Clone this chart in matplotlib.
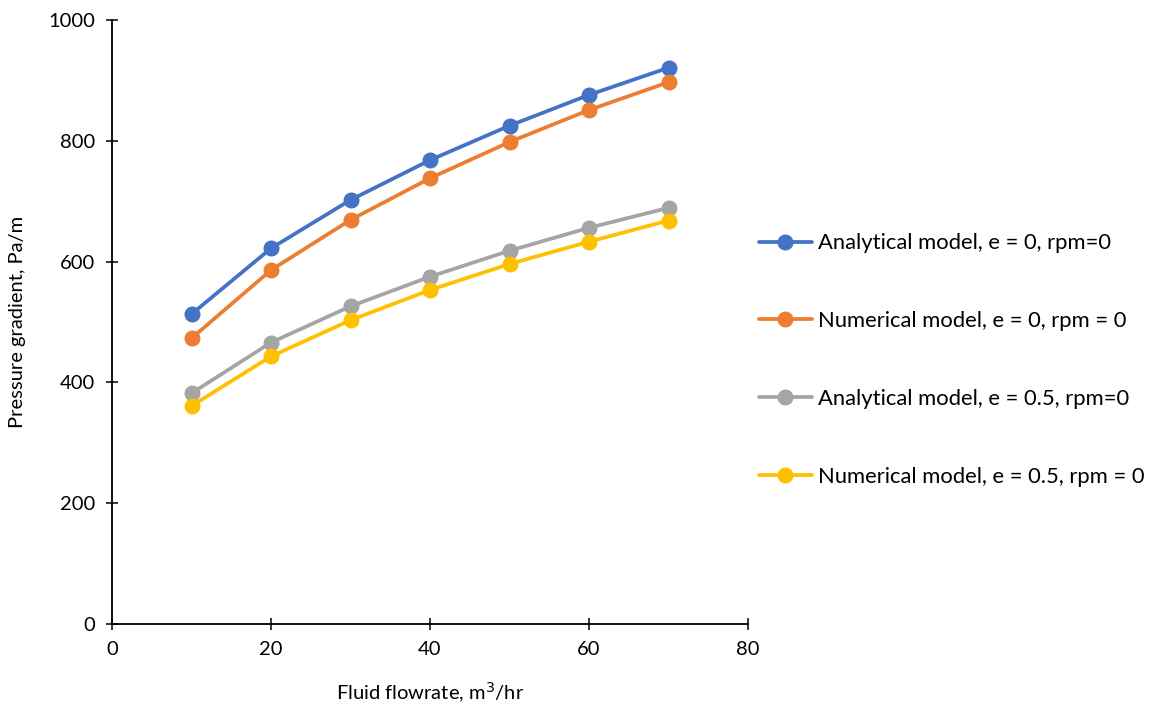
import matplotlib
matplotlib.use("Agg")
import matplotlib.pyplot as plt

plt.rcParams['font.family'] = ['Lato', 'DejaVu Sans']

flowrate = [10, 20, 30, 40, 50, 60, 70]
analytical_e0 = [513, 622, 702, 768, 825, 876, 921]
numerical_e0 = [473, 586, 669, 738, 798, 851, 897]
analytical_e05 = [382, 466, 526, 575, 618, 656, 689]
numerical_e05 = [361, 443, 503, 553, 596, 633, 668]

labels = ["Analytical model, e = 0, rpm=0",
          "Numerical model, e = 0, rpm = 0",
          "Analytical model, e = 0.5, rpm=0",
          "Numerical model, e = 0.5, rpm = 0"]
colors = ["#4472C4", "#ED7D31", "#A5A5A5", "#FFC000"]
series = [analytical_e0, numerical_e0, analytical_e05, numerical_e05]

fig = plt.figure(figsize=(11.57, 7.05), dpi=100)
ax = fig.add_axes([112/1157, 1-624/705, (748-112)/1157, (624-20)/705])

for y, c, lab in zip(series, colors, labels):
    ax.plot(flowrate, y, color=c, lw=2.7, marker='o', ms=10.5, label=lab,
            solid_capstyle='round')

ax.set_xlim(0, 80)
ax.set_ylim(0, 1000)
ax.set_xticks([0, 20, 40, 60, 80])
ax.set_yticks([0, 200, 400, 600, 800, 1000])
for s in ['top', 'right']:
    ax.spines[s].set_visible(False)
for s in ['left', 'bottom']:
    ax.spines[s].set_linewidth(1.3)
ax.tick_params(axis='both', direction='inout', length=8, width=1.1,
               labelsize=14.5, colors='black')
ax.tick_params(axis='x', pad=8)
ax.tick_params(axis='y', pad=8)
ax.set_xlabel("Fluid flowrate, m$^3$/hr", fontsize=14.5, labelpad=17)
ax.set_ylabel("Pressure gradient, Pa/m", fontsize=14.5, labelpad=16)

fig.legend(loc='center left', bbox_to_anchor=(759/1157, 1-360/705),
           frameon=False, fontsize=15.8, handlelength=2.4, handletextpad=0.3,
           labelspacing=2.63, borderpad=0, borderaxespad=0)

fig.savefig("out.png", dpi=100)
